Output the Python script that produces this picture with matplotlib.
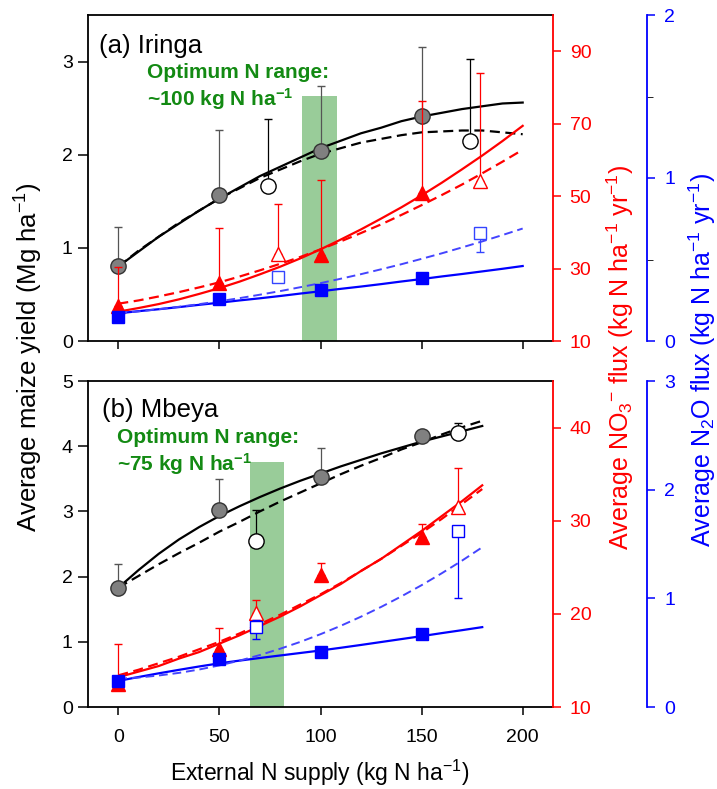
import matplotlib
matplotlib.use('Agg')
import matplotlib.pyplot as plt
from matplotlib.ticker import MultipleLocator

plt.rcParams['font.family'] = ['Liberation Sans', 'DejaVu Sans']
plt.rcParams['mathtext.fontset'] = 'custom'
plt.rcParams['mathtext.rm'] = 'Liberation Sans'
plt.rcParams['mathtext.it'] = 'Liberation Sans:italic'
plt.rcParams['mathtext.bf'] = 'Liberation Sans:bold'

# === Data: (a) Iringa ===
x_obs = [0, 50, 100, 150]
a_yield = [0.80, 1.57, 2.04, 2.42]
a_yield_err = [0.42, 0.69, 0.70, 0.74]
a_open_x_yield = [74, 174]
a_open_yield = [1.66, 2.15]
a_open_yield_err = [0.72, 0.88]
a_no3 = [19.7, 26.1, 33.8, 50.8]
a_no3_err = [10.8, 15.1, 20.6, 25.5]
a_open_x = [79, 179]
a_open_no3 = [33.9, 54.3]
a_open_no3_err = [14.0, 29.6]
a_n2o = [0.15, 0.26, 0.31, 0.385]
a_n2o_err = [0.0, 0.0, 0.0, 0.03]
a_open_n2o = [0.39, 0.665]
a_open_n2o_err = [0.0, 0.12]

a_fit_x = [0, 10, 20, 30, 40, 50, 60, 70, 80, 90, 100,
           110, 120, 130, 140, 150, 160, 170, 180, 190, 200]
a_yield_fit = [0.80, 0.96, 1.12, 1.26, 1.40, 1.53, 1.65, 1.77, 1.87, 1.97, 2.07,
               2.15, 2.23, 2.29, 2.36, 2.41, 2.45, 2.49, 2.52, 2.55, 2.56]
a_yield_fit2 = [0.80, 0.97, 1.12, 1.27, 1.40, 1.53, 1.64, 1.75, 1.84, 1.93, 2.01,
                2.07, 2.13, 2.17, 2.21, 2.24, 2.25, 2.26, 2.26, 2.24, 2.22]
a_no3_fit = [18.1, 19.1, 20.2, 21.5, 23.0, 24.6, 26.4, 28.4, 30.5, 32.8, 35.3,
             38.0, 40.8, 43.8, 46.9, 50.2, 53.7, 57.4, 61.2, 65.2, 69.4]
a_no3_fit2 = [20.3, 21.2, 22.3, 23.5, 24.8, 26.2, 27.8, 29.5, 31.3, 33.2, 35.3,
              37.5, 39.8, 42.2, 44.8, 47.5, 50.3, 53.2, 56.3, 59.5, 62.8]
a_n2o_fit = [0.170, 0.183, 0.195, 0.208, 0.222, 0.235, 0.249, 0.262, 0.276, 0.291, 0.305,
             0.320, 0.334, 0.349, 0.365, 0.380, 0.396, 0.411, 0.427, 0.443, 0.460]
a_n2o_fit2 = [0.170, 0.182, 0.195, 0.210, 0.226, 0.244, 0.263, 0.284, 0.306, 0.330, 0.355,
              0.382, 0.410, 0.440, 0.471, 0.504, 0.538, 0.574, 0.611, 0.650, 0.690]
a_opt = (91, 108.4, 2.63)

# === Data: (b) Mbeya ===
b_yield = [1.83, 3.02, 3.53, 4.16]
b_yield_err = [0.36, 0.47, 0.44, 0.0]
b_open_x = [68, 168]
b_open_yield = [2.54, 4.20]
b_open_yield_err = [0.48, 0.16]
b_no3 = [12.5, 16.2, 24.2, 28.3]
b_no3_err = [4.3, 2.3, 1.3, 1.4]
b_open_no3 = [20.1, 31.5]
b_open_no3_err = [1.4, 4.2]
b_n2o = [0.24, 0.44, 0.51, 0.67]
b_n2o_err = [0.0, 0.0, 0.0, 0.0]
b_open_n2o = [0.74, 1.62]
b_open_n2o_lo = [0.11, 0.62]
b_open_n2o_hi = [0.06, 0.0]

b_fit_x = [0, 10, 20, 30, 40, 50, 60, 70, 80, 90,
           100, 110, 120, 130, 140, 150, 160, 170, 180]
b_yield_fit = [1.83, 2.10, 2.35, 2.57, 2.76, 2.93, 3.08, 3.22, 3.35, 3.47,
               3.58, 3.69, 3.79, 3.89, 3.98, 4.07, 4.15, 4.23, 4.31]
b_yield_fit2 = [1.83, 2.01, 2.19, 2.36, 2.52, 2.69, 2.84, 3.00, 3.15, 3.29,
                3.43, 3.57, 3.70, 3.82, 3.95, 4.06, 4.18, 4.29, 4.39]
b_no3_fit = [13.2, 13.8, 14.4, 15.2, 15.9, 16.8, 17.7, 18.7, 19.7, 20.8,
             22.0, 23.2, 24.6, 25.9, 27.4, 28.9, 30.5, 32.1, 33.8]
b_no3_fit2 = [13.4, 14.0, 14.7, 15.4, 16.2, 17.0, 17.9, 18.9, 19.9, 21.0,
              22.1, 23.3, 24.6, 25.9, 27.3, 28.7, 30.2, 31.8, 33.4]
b_n2o_fit = [0.240, 0.276, 0.310, 0.342, 0.373, 0.402, 0.427, 0.451, 0.474, 0.497,
             0.520, 0.545, 0.571, 0.598, 0.625, 0.652, 0.680, 0.707, 0.735]
b_n2o_fit2 = [0.260, 0.271, 0.290, 0.314, 0.345, 0.383, 0.427, 0.478, 0.536, 0.599,
              0.670, 0.747, 0.831, 0.921, 1.018, 1.121, 1.231, 1.347, 1.470]
b_opt = (65.3, 81.8, 3.76)

GREY = '#808080'
OPT_GREEN = '#99cc99'
TXT_GREEN = '#138a13'
dash = (0, (4.5, 2.5))
fs_tick = 14

fig = plt.figure(figsize=(7.17, 7.89), dpi=100)
W, H = 717, 789


def panel(rect, fit_x, yf, yf2, nf, nf2, wf, wf2, opt, ylims):
    ax = fig.add_axes(rect)
    axr = ax.twinx()
    axb = ax.twinx()
    axb.spines['right'].set_position(('outward', 68))
    for a in (axr, axb):
        for s in ('left', 'top', 'bottom'):
            a.spines[s].set_visible(False)
    ax.spines['right'].set_visible(False)
    axr.spines['right'].set_color('red')
    axb.spines['right'].set_color('blue')
    for a in (ax, axr, axb):
        for s in a.spines.values():
            s.set_linewidth(1.3)

    ax.set_xlim(-15, 215)
    ax.set_ylim(*ylims[0])
    axr.set_ylim(*ylims[1])
    axb.set_ylim(*ylims[2])
    ax.set_xticks([0, 50, 100, 150, 200])

    ax.tick_params(axis='x', direction='out', length=6, width=1.1, labelsize=fs_tick, pad=10)
    ax.tick_params(axis='y', direction='out', length=7, width=1.1, labelsize=fs_tick, pad=4)
    axr.tick_params(axis='y', colors='red', direction='out', length=6, width=1.1,
                    labelsize=fs_tick, pad=6)
    axb.tick_params(axis='y', colors='blue', direction='out', length=6, width=1.1,
                    labelsize=fs_tick, pad=6)

    # optimum N range
    ax.bar((opt[0] + opt[1]) / 2, opt[2], width=opt[1] - opt[0], color=OPT_GREEN,
           zorder=0)

    ax.plot(fit_x, yf, color='black', lw=1.6)
    ax.plot(fit_x, yf2, color='black', lw=1.6, ls=dash)
    axr.plot(fit_x, nf, color='red', lw=1.6)
    axr.plot(fit_x, nf2, color='red', lw=1.6, ls=dash)
    axb.plot(fit_x, wf, color='blue', lw=1.6)
    axb.plot(fit_x, wf2, color='#4444ff', lw=1.4, ls=dash)
    return ax, axr, axb


def obs(a, x, y, err, marker, fc, ec, ms, ecolor, lower=None):
    yerr = [lower if lower is not None else [0] * len(y), err]
    a.errorbar(x, y, yerr=yerr, fmt=marker, ms=ms, mfc=fc, mec=ec, mew=1.0,
               ecolor=ecolor, elinewidth=0.9, capsize=3, capthick=0.9, zorder=5)


# === Panel (a) ===
ax1, ax1r, ax1b = panel([88 / W, 1 - 341 / H, 465 / W, 326 / H], a_fit_x,
                        a_yield_fit, a_yield_fit2, a_no3_fit, a_no3_fit2,
                        a_n2o_fit, a_n2o_fit2, a_opt,
                        [(0, 3.5), (10, 100), (0, 2)])
ax1.set_yticks([0, 1, 2, 3])
ax1r.set_yticks([10, 30, 50, 70, 90])
ax1b.set_yticks([0, 1, 2])
ax1b.yaxis.set_minor_locator(MultipleLocator(0.5))
ax1b.tick_params(axis='y', which='minor', direction='out', length=4, color='black')
ax1.tick_params(axis='x', labelbottom=False)

obs(ax1, x_obs, a_yield, a_yield_err, 'o', GREY, '#333333', 11, '#555555')
obs(ax1, a_open_x_yield, a_open_yield, a_open_yield_err, 'o', 'white', 'black', 11, 'black')
obs(ax1r, x_obs, a_no3, a_no3_err, '^', 'red', 'red', 10, 'red')
obs(ax1r, a_open_x, a_open_no3, a_open_no3_err, '^', 'white', 'red', 10, 'red')
obs(ax1b, x_obs, a_n2o, a_n2o_err, 's', 'blue', 'blue', 9, 'blue', lower=a_n2o_err)
obs(ax1b, a_open_x, a_open_n2o, [0, 0], 's', 'white', '#3344ff', 9, '#3344ff',
    lower=a_open_n2o_err)

ax1.text(-9.5, 3.17, '(a) Iringa', fontsize=18.5, va='center')
ax1.text(14, 2.72, 'Optimum N range:\n~100 kg N ha$^{\\mathbf{-1}}$', fontsize=15,
         fontweight='bold', color=TXT_GREEN, va='center', linespacing=1.2)

# === Panel (b) ===
ax2, ax2r, ax2b = panel([88 / W, 1 - 707 / H, 465 / W, 326 / H], b_fit_x,
                        b_yield_fit, b_yield_fit2, b_no3_fit, b_no3_fit2,
                        b_n2o_fit, b_n2o_fit2, b_opt,
                        [(0, 5), (10, 45), (0, 3)])
ax2.set_yticks([0, 1, 2, 3, 4, 5])
ax2r.set_yticks([10, 20, 30, 40])
ax2b.set_yticks([0, 1, 2, 3])

obs(ax2, x_obs, b_yield, b_yield_err, 'o', GREY, '#333333', 11, '#555555')
obs(ax2, b_open_x, b_open_yield, b_open_yield_err, 'o', 'white', 'black', 11, 'black')
obs(ax2r, x_obs, b_no3, b_no3_err, '^', 'red', 'red', 10, 'red')
obs(ax2r, b_open_x, b_open_no3, b_open_no3_err, '^', 'white', 'red', 10, 'red')
obs(ax2b, x_obs, b_n2o, b_n2o_err, 's', 'blue', 'blue', 9, 'blue', lower=b_n2o_err)
obs(ax2b, b_open_x, b_open_n2o, b_open_n2o_hi, 's', 'white', 'blue', 9, 'blue',
    lower=b_open_n2o_lo)

ax2.text(-8, 4.55, '(b) Mbeya', fontsize=18.5, va='center')
ax2.text(-0.5, 3.9, 'Optimum N range:\n~75 kg N ha$^{\\mathbf{-1}}$', fontsize=15,
         fontweight='bold', color=TXT_GREEN, va='center', linespacing=1.2)

# === Axis titles ===
fig.text(29 / W, 1 - 357 / H, 'Average maize yield (Mg ha$^{-1}$)', rotation=90,
         ha='center', va='center', fontsize=18.5)
fig.text(620 / W, 1 - 357 / H, 'Average NO$_3$$^{-}$ flux (kg N ha$^{-1}$ yr$^{-1}$)',
         rotation=90, ha='center', va='center', fontsize=18, color='red')
fig.text(702 / W, 1 - 360 / H, 'Average N$_2$O flux (kg N ha$^{-1}$ yr$^{-1}$)',
         rotation=90, ha='center', va='center', fontsize=18, color='blue')
fig.text(320 / W, 1 - 773 / H, 'External N supply (kg N ha$^{-1}$)',
         ha='center', va='center', fontsize=16.5)

fig.savefig('out.png', dpi=100)
